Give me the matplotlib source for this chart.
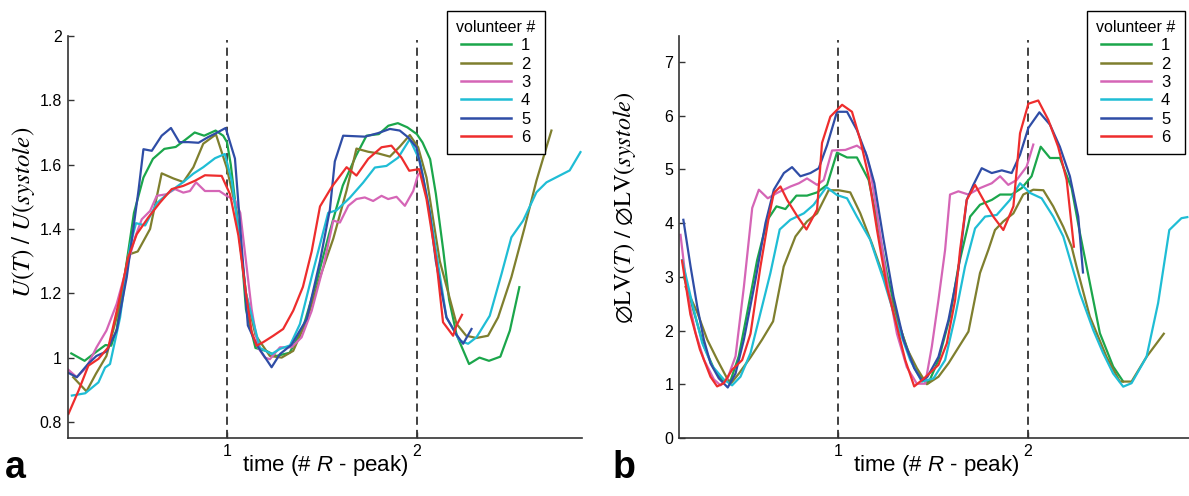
import matplotlib
matplotlib.use('Agg')
import matplotlib.pyplot as plt

plt.rcParams['font.family'] = 'Liberation Sans'
plt.rcParams['mathtext.fontset'] = 'custom'
plt.rcParams['mathtext.rm'] = 'Liberation Sans'
plt.rcParams['mathtext.it'] = 'Liberation Sans:italic'

volunteers = ['1', '2', '3', '4', '5', '6']
colors = ['#1ba64b', '#7f7f2e', '#d565b6', '#1fbdd5', '#2f4da6', '#ee2d2d']

# panel a: U(T) / U(systole)
a_t1 = [0.18, 0.25, 0.30, 0.36, 0.39, 0.42, 0.46, 0.51, 0.56, 0.61, 0.67, 0.73, 0.78, 0.83, 0.88, 0.94, 0.98,
        1.00, 1.02, 1.05, 1.08, 1.10, 1.15, 1.21, 1.26, 1.33, 1.40, 1.47, 1.54, 1.61, 1.68, 1.735, 1.80, 1.85,
        1.90, 1.95, 2.00, 2.03, 2.07, 2.10, 2.14, 2.17, 2.21, 2.275, 2.33, 2.38, 2.44, 2.49, 2.54]
a_u1 = [1.013, 0.99, 1.013, 1.039, 1.037, 1.09, 1.25, 1.45, 1.56, 1.618, 1.649, 1.655, 1.677, 1.70, 1.69, 1.706, 1.69,
        1.67, 1.60, 1.45, 1.30, 1.15, 1.03, 1.02, 1.005, 1.015, 1.092, 1.232, 1.389, 1.535, 1.628, 1.69, 1.695, 1.721,
        1.729, 1.716, 1.695, 1.669, 1.617, 1.51, 1.33, 1.18, 1.07, 0.98, 1.0, 0.99, 1.003, 1.084, 1.219]

a_t2 = [0.19, 0.26, 0.31, 0.365, 0.43, 0.48, 0.53, 0.595, 0.656, 0.718, 0.77, 0.823, 0.875, 0.942, 0.998, 1.05,
        1.10, 1.15, 1.226, 1.288, 1.349, 1.419, 1.49, 1.56, 1.63, 1.682, 1.744, 1.796, 1.858, 1.91, 1.963, 2.007,
        2.051, 2.121, 2.209, 2.26, 2.314, 2.375, 2.428, 2.498, 2.568, 2.63, 2.709]
a_u2 = [0.939, 0.895, 0.95, 1.005, 1.15, 1.32, 1.33, 1.40, 1.573, 1.557, 1.546, 1.592, 1.665, 1.694, 1.592, 1.456,
        1.20, 1.07, 1.005, 1.0, 1.021, 1.114, 1.25, 1.37, 1.52, 1.65, 1.64, 1.635, 1.625, 1.656, 1.692, 1.654,
        1.56, 1.30, 1.105, 1.068, 1.061, 1.068, 1.125, 1.25, 1.405, 1.55, 1.706]

a_t3 = [0.165, 0.209, 0.26, 0.313, 0.365, 0.419, 0.472, 0.516, 0.551, 0.595, 0.63, 0.682, 0.726, 0.77, 0.805,
        0.837, 0.884, 0.96, 0.998, 1.042, 1.07, 1.10, 1.13, 1.165, 1.20, 1.226, 1.279, 1.34, 1.393, 1.446, 1.507,
        1.56, 1.595, 1.639, 1.682, 1.726, 1.77, 1.814, 1.849, 1.893, 1.937, 1.981, 2.007]
a_u3 = [0.962, 0.939, 0.97, 1.032, 1.084, 1.167, 1.281, 1.374, 1.43, 1.456, 1.503, 1.508, 1.524, 1.513, 1.518,
        1.545, 1.518, 1.518, 1.503, 1.49, 1.45, 1.30, 1.15, 1.03, 1.0, 0.995, 1.032, 1.032, 1.063, 1.145, 1.281,
        1.426, 1.42, 1.472, 1.493, 1.498, 1.487, 1.503, 1.493, 1.5, 1.472, 1.518, 1.57]

a_t4 = [0.183, 0.253, 0.323, 0.358, 0.384, 0.437, 0.49, 0.521, 0.569, 0.63, 0.70, 0.77, 0.823, 0.875, 0.937,
        0.989, 1.025, 1.06, 1.10, 1.174, 1.235, 1.279, 1.332, 1.384, 1.454, 1.533, 1.577, 1.647, 1.717, 1.779,
        1.84, 1.902, 1.963, 2.016, 2.068, 2.156, 2.226, 2.27, 2.314, 2.384, 2.446, 2.498, 2.56, 2.63, 2.683,
        2.805, 2.862]
a_u4 = [0.882, 0.889, 0.923, 0.969, 0.98, 1.125, 1.35, 1.418, 1.411, 1.48, 1.516, 1.546, 1.572, 1.592, 1.62,
        1.633, 1.55, 1.40, 1.20, 1.03, 1.011, 1.027, 1.038, 1.104, 1.27, 1.45, 1.458, 1.497, 1.544, 1.591,
        1.596, 1.622, 1.679, 1.612, 1.456, 1.125, 1.053, 1.043, 1.063, 1.13, 1.26, 1.374, 1.426, 1.514, 1.545,
        1.582, 1.639]

a_t5 = [0.16, 0.209, 0.268, 0.312, 0.365, 0.419, 0.472, 0.51, 0.534, 0.56, 0.604, 0.656, 0.705, 0.749, 0.797,
        0.85, 0.902, 0.946, 0.993, 1.042, 1.077, 1.11, 1.156, 1.235, 1.279, 1.34, 1.42, 1.49, 1.542, 1.568,
        1.612, 1.726, 1.796, 1.858, 1.91, 1.954, 1.998, 2.033, 2.068, 2.10, 2.156, 2.21, 2.244, 2.288]
a_u5 = [0.954, 0.939, 0.98, 1.005, 1.019, 1.084, 1.25, 1.415, 1.52, 1.648, 1.643, 1.69, 1.714, 1.67, 1.67,
        1.668, 1.686, 1.699, 1.714, 1.619, 1.35, 1.10, 1.04, 0.97, 1.011, 1.04, 1.12, 1.30, 1.46, 1.61,
        1.69, 1.687, 1.698, 1.711, 1.706, 1.685, 1.654, 1.56, 1.45, 1.30, 1.125, 1.07, 1.043, 1.089]

a_t6 = [0.165, 0.218, 0.27, 0.323, 0.375, 0.428, 0.48, 0.525, 0.586, 0.647, 0.709, 0.77, 0.832, 0.884, 0.972,
        1.016, 1.06, 1.10, 1.13, 1.156, 1.191, 1.244, 1.296, 1.349, 1.40, 1.446, 1.49, 1.551, 1.63, 1.682,
        1.744, 1.814, 1.866, 1.919, 1.96, 2.012, 2.051, 2.103, 2.138, 2.191, 2.209, 2.238]
a_u6 = [0.825, 0.897, 0.975, 0.996, 1.032, 1.167, 1.312, 1.384, 1.436, 1.482, 1.524, 1.534, 1.55, 1.567, 1.565,
        1.508, 1.38, 1.20, 1.08, 1.037, 1.048, 1.068, 1.089, 1.146, 1.22, 1.33, 1.47, 1.53, 1.592, 1.566,
        1.618, 1.654, 1.659, 1.622, 1.581, 1.586, 1.493, 1.30, 1.11, 1.068, 1.1, 1.133]

# panel b: diameter LV(T) / diameter LV(systole)
b_t1 = [0.186, 0.239, 0.291, 0.344, 0.388, 0.432, 0.475, 0.519, 0.572, 0.625, 0.674, 0.721, 0.779, 0.835, 0.888,
        0.941, 0.993, 1.046, 1.098, 1.16, 1.204, 1.256, 1.318, 1.379, 1.432, 1.475, 1.528, 1.589, 1.633, 1.695,
        1.747, 1.809, 1.853, 1.914, 1.967, 2.019, 2.067, 2.116, 2.168, 2.23, 2.274, 2.309, 2.379, 2.449, 2.502]
b_d1 = [3.0, 2.34, 1.71, 1.29, 1.07, 1.07, 1.52, 2.32, 3.31, 4.05, 4.31, 4.26, 4.51, 4.51, 4.57,
        4.71, 5.31, 5.22, 5.22, 4.8, 4.05, 3.06, 2.13, 1.51, 1.14, 1.02, 1.45, 2.26, 3.19, 4.12,
        4.34, 4.43, 4.53, 4.53, 4.65, 4.87, 5.42, 5.21, 5.21, 4.65, 3.81, 3.19, 1.95, 1.33, 1.05]

b_t2 = [0.195, 0.256, 0.309, 0.361, 0.43, 0.476, 0.537, 0.598, 0.656, 0.712, 0.774, 0.835, 0.888, 0.949, 1.002,
        1.063, 1.116, 1.177, 1.239, 1.30, 1.361, 1.414, 1.467, 1.528, 1.581, 1.686, 1.747, 1.791, 1.826, 1.87,
        1.923, 1.975, 2.028, 2.081, 2.133, 2.186, 2.23, 2.256, 2.326, 2.414, 2.484, 2.546, 2.625, 2.716]
b_d2 = [2.81, 2.34, 1.83, 1.46, 1.0, 1.2, 1.5, 1.83, 2.17, 3.19, 3.75, 4.03, 4.18, 4.61, 4.61,
        4.57, 4.18, 3.62, 3.0, 2.35, 1.67, 1.3, 1.0, 1.14, 1.39, 1.98, 3.07, 3.5, 3.87, 4.03,
        4.18, 4.53, 4.62, 4.61, 4.31, 3.93, 3.56, 3.19, 2.26, 1.51, 1.05, 1.05, 1.51, 1.94]

b_t3 = [0.168, 0.204, 0.247, 0.291, 0.344, 0.379, 0.414, 0.458, 0.502, 0.546, 0.581, 0.628, 0.677, 0.748, 0.792,
        0.835, 0.888, 0.923, 0.967, 1.037, 1.098, 1.142, 1.168, 1.204, 1.256, 1.309, 1.361, 1.414, 1.458, 1.493,
        1.528, 1.563, 1.589, 1.633, 1.686, 1.747, 1.809, 1.853, 1.896, 1.94, 1.993, 2.028]
b_d3 = [3.78, 2.70, 1.96, 1.46, 1.09, 0.98, 1.09, 1.52, 2.81, 4.28, 4.62, 4.46, 4.56, 4.68, 4.74,
        4.83, 4.71, 4.8, 5.35, 5.36, 5.44, 5.33, 4.99, 4.18, 2.94, 1.94, 1.32, 1.01, 1.01, 1.70,
        2.57, 3.5, 4.53, 4.59, 4.53, 4.65, 4.74, 4.87, 4.71, 4.80, 5.05, 5.46]

b_t4 = [0.177, 0.23, 0.282, 0.335, 0.396, 0.44, 0.484, 0.537, 0.589, 0.642, 0.691, 0.747, 0.818, 0.87, 0.937,
        0.993, 1.046, 1.098, 1.168, 1.239, 1.309, 1.379, 1.44, 1.502, 1.563, 1.616, 1.668, 1.721, 1.774, 1.835,
        1.905, 1.958, 2.011, 2.072, 2.133, 2.186, 2.274, 2.344, 2.396, 2.449, 2.502, 2.546, 2.625, 2.686, 2.745,
        2.809, 2.84]
b_d4 = [3.31, 2.5, 1.77, 1.34, 1.09, 0.98, 1.14, 1.58, 2.32, 3.07, 3.88, 4.06, 4.18, 4.34, 4.67,
        4.52, 4.46, 4.12, 3.69, 2.94, 2.13, 1.45, 1.05, 1.11, 1.45, 2.26, 3.19, 3.9, 4.12, 4.15,
        4.43, 4.74, 4.56, 4.46, 4.12, 3.75, 2.69, 2.01, 1.58, 1.2, 0.955, 1.02, 1.51, 2.51, 3.87,
        4.09, 4.11]

b_t5 = [0.183, 0.221, 0.256, 0.291, 0.326, 0.37, 0.417, 0.458, 0.502, 0.563, 0.616, 0.66, 0.713, 0.756, 0.80,
        0.853, 0.897, 0.941, 0.993, 1.046, 1.098, 1.151, 1.19, 1.239, 1.291, 1.344, 1.40, 1.44, 1.47, 1.528,
        1.581, 1.633, 1.677, 1.712, 1.756, 1.809, 1.862, 1.914, 1.958, 2.002, 2.06, 2.116, 2.168, 2.221, 2.265,
        2.29]
b_d5 = [4.06, 3.19, 2.45, 1.83, 1.39, 1.11, 0.94, 1.2, 1.83, 2.94, 4.0, 4.62, 4.93, 5.04, 4.87,
        4.93, 5.02, 5.45, 6.07, 6.07, 5.73, 5.24, 4.74, 3.68, 2.63, 1.83, 1.3, 1.07, 1.14, 1.51,
        2.2, 3.13, 4.43, 4.71, 5.02, 4.93, 4.98, 4.93, 5.27, 5.77, 6.06, 5.83, 5.42, 4.87, 4.12,
        3.08]

b_t6 = [0.176, 0.22, 0.27, 0.326, 0.361, 0.396, 0.44, 0.493, 0.537, 0.589, 0.633, 0.66, 0.695, 0.73, 0.783,
        0.832, 0.888, 0.914, 0.958, 1.02, 1.072, 1.116, 1.16, 1.204, 1.256, 1.309, 1.353, 1.40, 1.449, 1.528,
        1.572, 1.616, 1.642, 1.677, 1.721, 1.765, 1.817, 1.87, 1.923, 1.958, 2.002, 2.054, 2.107, 2.159, 2.204,
        2.242]
b_d6 = [3.3, 2.3, 1.65, 1.14, 0.96, 1.02, 1.27, 1.45, 1.94, 3.18, 4.1, 4.56, 4.68, 4.43, 4.13,
        3.88, 4.25, 5.49, 5.98, 6.2, 6.07, 5.54, 4.86, 3.87, 2.81, 2.07, 1.45, 0.96, 1.1, 1.36,
        1.76, 2.57, 3.5, 4.43, 4.71, 4.43, 4.12, 3.87, 4.31, 5.67, 6.22, 6.28, 5.92, 5.42, 4.8,
        3.56]

panel_a = [(a_t1, a_u1), (a_t2, a_u2), (a_t3, a_u3), (a_t4, a_u4), (a_t5, a_u5), (a_t6, a_u6)]
panel_b = [(b_t1, b_d1), (b_t2, b_d2), (b_t3, b_d3), (b_t4, b_d4), (b_t5, b_d5), (b_t6, b_d6)]

W, H = 1189, 496
fig = plt.figure(figsize=(W / 100, H / 100), dpi=100)
ax_a = fig.add_axes([67.5 / W, 1 - 438 / H, (582 - 67.5) / W, 402 / H])
ax_b = fig.add_axes([679 / W, 1 - 438 / H, (1193 - 679) / W, 402 / H])


def style_axes(ax, series, ylim, yticks, ylabel, ylab_size, lab_x, lab_y, legend_x):
    for (t, v), c, name in zip(series, colors, volunteers):
        ax.plot(t, v, color=c, lw=1.6, label=name)
    for xv in [1, 2]:
        ax.axvline(xv, ymax=0.99, color='#333333', lw=1.3, ls=(0, (4.5, 2.8)), zorder=0)
    ax.set_xlim(0.16, 2.87)
    ax.set_ylim(*ylim)
    ax.set_xticks([1, 2])
    ax.set_xticklabels(['1', '2'])
    ax.set_yticks(yticks)
    ax.set_yticklabels(['%g' % v for v in yticks])
    for side in ['top', 'right']:
        ax.spines[side].set_visible(False)
    for side in ['left', 'bottom']:
        ax.spines[side].set_color('#333333')
        ax.spines[side].set_linewidth(1.2)
    ax.tick_params(direction='in', length=4, width=1, color='#333333', labelsize=11.5, pad=4)
    ax.set_xlabel('time (# $R$ - peak)', fontsize=16)
    ax.xaxis.set_label_coords(0.5, -0.038)
    ax.set_ylabel(ylabel, fontsize=ylab_size, math_fontfamily='stix')
    ax.yaxis.set_label_coords(lab_x, lab_y)
    leg = ax.legend(title='volunteer #', loc='upper left', bbox_to_anchor=(legend_x / W, 1 - 10.7 / H),
                    bbox_transform=fig.transFigure, fancybox=False, edgecolor='black', framealpha=1,
                    fontsize=12, title_fontsize=11.5, handlelength=3.0, handletextpad=0.6,
                    labelspacing=0.2, borderpad=0.55, borderaxespad=0, alignment='center')
    leg.get_frame().set_linewidth(1.0)
    for line in leg.get_lines():
        line.set_linewidth(1.8)


style_axes(ax_a, panel_a, (0.75, 2.0), [0.8, 1, 1.2, 1.4, 1.6, 1.8, 2],
           r'$U(T)\ /\ U(systole)$', 18, -0.06, 0.56, 447)
style_axes(ax_b, panel_b, (0, 7.48), [0, 1, 2, 3, 4, 5, 6, 7],
           r'$\emptyset\mathrm{LV}(T)\ /\ \emptyset\mathrm{LV}(systole)$', 17.5, -0.08, 0.572, 1087)

fig.text(5 / W, 1 - 478 / H, 'a', fontsize=27, fontweight='bold', va='baseline')
fig.text(613 / W, 1 - 478 / H, 'b', fontsize=27, fontweight='bold', va='baseline')

fig.savefig('out.png', dpi=100)
